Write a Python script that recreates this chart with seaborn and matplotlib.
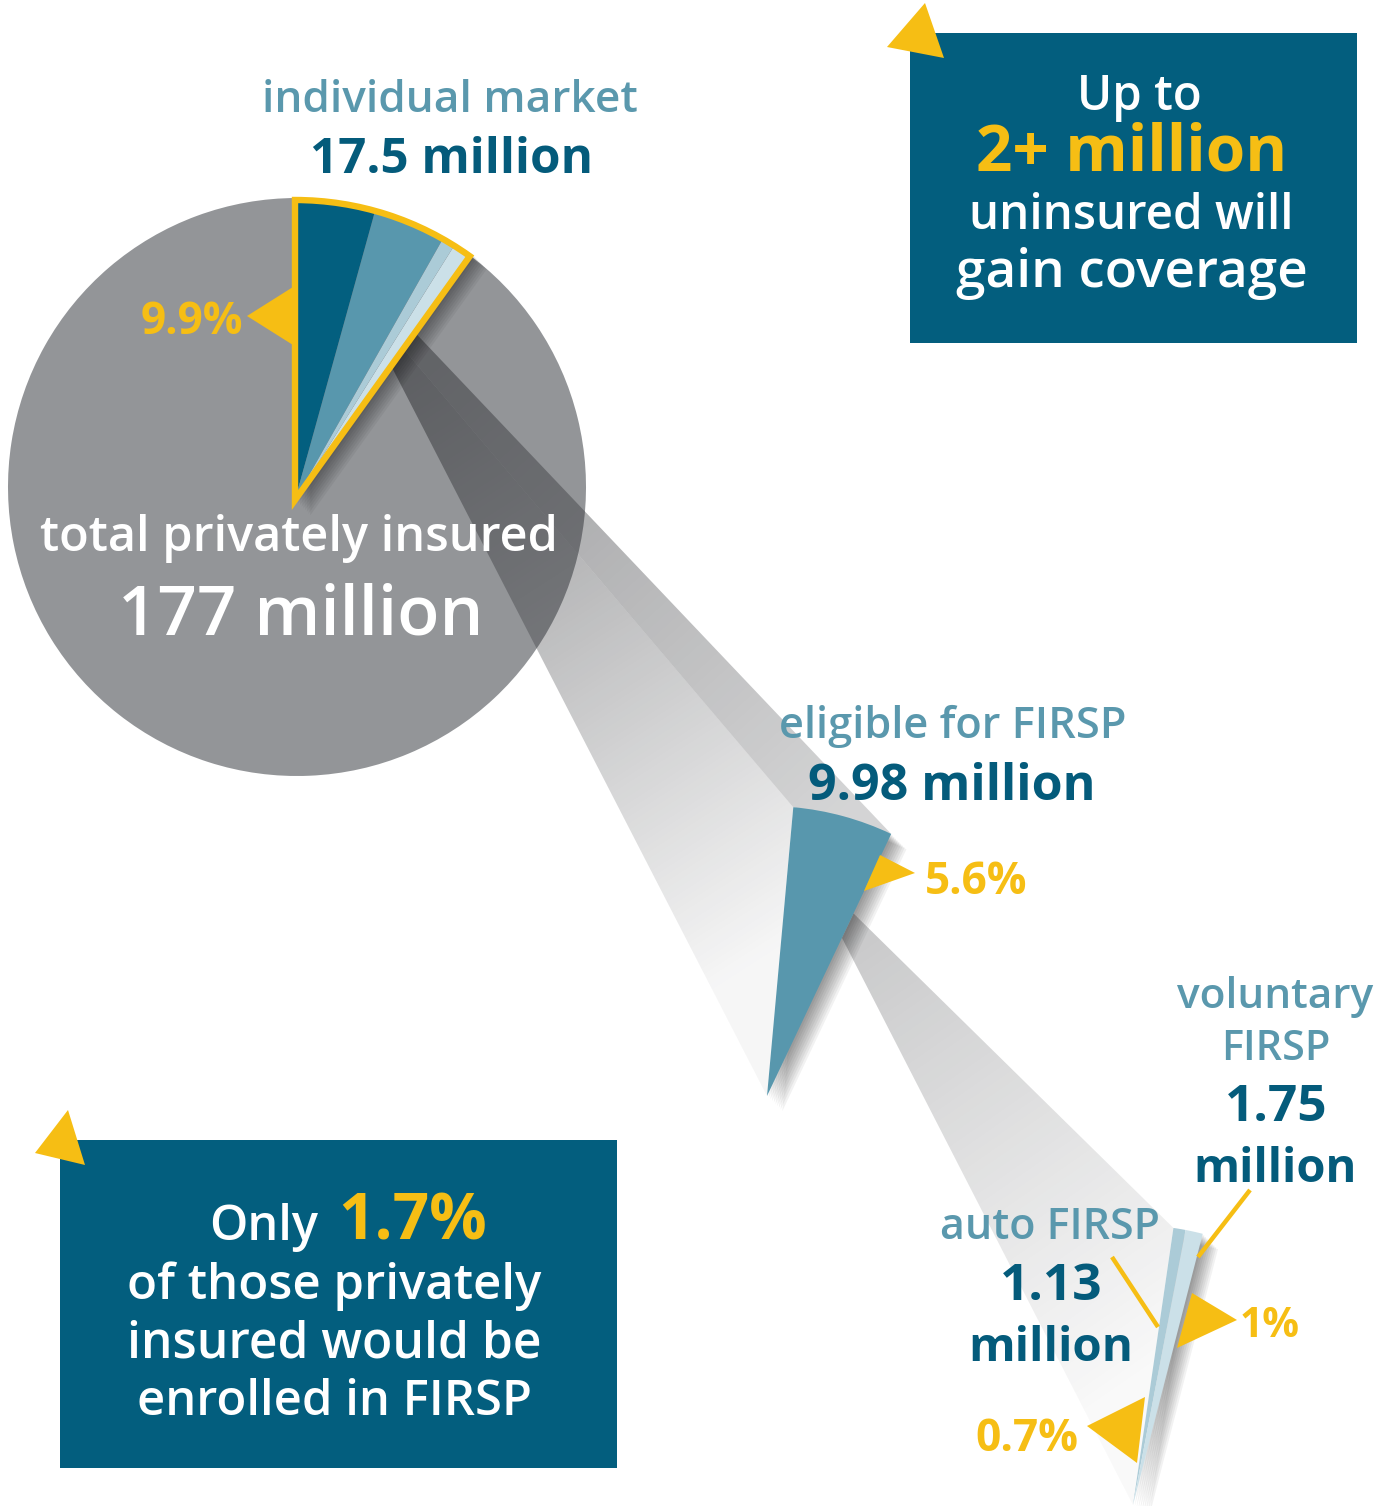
import numpy as np
import matplotlib
matplotlib.use("Agg")
import matplotlib.pyplot as plt
import seaborn as sns
from matplotlib.patches import Polygon, Rectangle
from matplotlib.colors import to_rgb

# ---------------- data ----------------
total_label = "177 million"
main_segments = ["individual, not eligible", "eligible, not enrolled", "auto FIRSP", "voluntary FIRSP"]
main_shares = [4.3, 3.9, 0.7, 1.0]      # % of all privately insured (sums to 9.9 %)
rest_share = [90.1]                      # rest of the privately insured
eligible_shares = [5.6]                  # eligible for FIRSP
enrolled_segments = ["auto FIRSP", "voluntary FIRSP"]
enrolled_shares = [0.7, 1.0]             # enrolled in FIRSP

pct_labels = ["9.9%", "5.6%", "0.7%", "1%"]
group_labels = ["individual market", "eligible for FIRSP", "auto FIRSP", "voluntary", "FIRSP"]
value_labels = ["17.5 million", "9.98 million", "1.13", "1.75", "million"]

# ---------------- style ----------------
NAVY = "#045b7b"
BOX = "#035e7e"
TEAL_TXT = "#5a98ad"
SEG_COLORS = ["#035f7f", "#5897ad", "#abcbd7", "#cbe0e8"]
MID = "#5897ad"
GRAY = "#939598"
YELLOW = "#f6be14"
WHITE = "white"

sns.set_theme(style="white")
plt.rcParams["font.family"] = ["Open Sans", "DejaVu Sans"]
BOLD_FAMILY = ["Open Sans", "DejaVu Sans"]
REG_FAMILY = ["Open Sans", "DejaVu Sans"]

W, H = 1388, 1506
fig = plt.figure(figsize=(W / 100, H / 100), dpi=100)
fig.patch.set_facecolor("white")
ax = fig.add_axes([0, 0, 1, 1])


def up(p):
    return (p[0], H - p[1])


def pt(c, r, theta):
    cx, cy = up(c)
    t = np.radians(theta)
    return (cx + r * np.sin(t), cy + r * np.cos(t))


def frac(v):
    return np.asarray(v, float) / 100.0


# layout (pixel coordinates from top-left)
PIE_C, PIE_R = (297, 487), 289
W1_C, W1_R, W1_T0 = (295, 500), 300, 0.0
W2_C, W2_R, W2_T0 = (767, 1096), 290, 5.2
W3_C, W3_R, W3_T0 = (1133, 1505), 280, 8.3


def draw_pie(vals, center, radius, t0, colors, z, **kw):
    wp = dict(linewidth=0, zorder=z)
    wp.update(kw)
    ax.pie(frac(vals), colors=colors, center=center, radius=radius,
           startangle=90 - t0, counterclock=False, normalize=False,
           wedgeprops=wp)


# grey total pie
draw_pie([sum(main_shares), rest_share[0]], up(PIE_C), PIE_R, 0, [GRAY, GRAY], 1)

# ---------------- gradient beams ----------------
xs = np.linspace(0, W, 694)
ys = np.linspace(0, H, 753)
GX, GY = np.meshgrid(xs, ys)


def beam(poly_pts, p0, p1, a0, a1, z=2, color="#2b2c30"):
    poly = Polygon(poly_pts, closed=True, facecolor="none", edgecolor="none")
    ax.add_patch(poly)
    d = np.array(p1) - np.array(p0)
    t = ((GX - p0[0]) * d[0] + (GY - p0[1]) * d[1]) / (d @ d)
    t = np.clip(t, 0, 1)
    rgba = np.zeros(GX.shape + (4,), dtype=np.float32)
    rgba[..., :3] = to_rgb(color)
    rgba[..., 3] = a0 + (a1 - a0) * t
    im = ax.imshow(rgba, extent=(0, W, 0, H), origin="lower", zorder=z,
                   interpolation="bilinear")
    im.set_clip_path(poly)


span1 = sum(main_shares) * 3.6
span2 = sum(eligible_shares) * 3.6
A1 = pt(W1_C, 165, span1)
B1 = pt(W1_C, 186, span1)
C1 = pt(W1_C, 206, span1)
W2V = up(W2_C)
W2TL = pt(W2_C, W2_R, W2_T0)
W2TR = pt(W2_C, W2_R, W2_T0 + span2)
mid = lambda a, b: ((a[0] + b[0]) / 2, (a[1] + b[1]) / 2)

beam([A1, B1, W2TL, W2V], mid(A1, B1), mid(W2TL, W2V), 0.52, 0.04)
beam([B1, C1, W2TR, W2TL], mid(B1, C1), mid(W2TL, W2TR), 0.48, 0.20)

P2 = pt(W2_C, 202, W2_T0 + span2)
Q2 = pt(W2_C, 175, W2_T0 + span2)
W3V = up(W3_C)
W3TL = pt(W3_C, W3_R, W3_T0)
beam([P2, W3TL, W3V, Q2], mid(P2, Q2), mid(W3TL, W3V), 0.26, 0.03)

# ---------------- drop shadows ----------------
for vals, c, r, t0 in [(main_shares, W1_C, W1_R + 3, W1_T0),
                        (eligible_shares, W2_C, W2_R, W2_T0),
                        (enrolled_shares, W3_C, W3_R, W3_T0)]:
    cx, cy = up(c)
    for k in range(1, 10):
        o = k * 1.7
        draw_pie([sum(vals)], (cx + o, cy - o), r, t0, ["black"], 3, alpha=0.05)

# ---------------- coloured wedges ----------------
draw_pie(main_shares, up(W1_C), W1_R, W1_T0, SEG_COLORS, 4)
draw_pie([sum(main_shares)], up(W1_C), W1_R, W1_T0, ["none"], 5,
         fill=False, edgecolor=YELLOW, linewidth=4.6, joinstyle="miter")
draw_pie(eligible_shares, up(W2_C), W2_R, W2_T0, [MID], 4)
draw_pie(enrolled_shares, up(W3_C), W3_R, W3_T0, SEG_COLORS[2:], 4)

# ---------------- boxes ----------------
ax.add_patch(Rectangle(up((910, 343)), 447, 310, facecolor=BOX, edgecolor="none", zorder=1))
ax.add_patch(Rectangle(up((60, 1468)), 557, 328, facecolor=BOX, edgecolor="none", zorder=1))

# ---------------- yellow callouts ----------------
tris = [
    [(247, 316), (293, 287), (293, 345)],
    [(915, 873), (880, 855), (864, 891)],
    [(1237, 1320), (1192, 1293), (1177, 1348)],
    [(1087, 1426), (1145, 1397), (1137, 1463)],
    [(887, 47), (925, 3), (944, 58)],
    [(35, 1153), (68, 1110), (85, 1165)],
]
for tri in tris:
    ax.add_patch(Polygon([up(p) for p in tri], closed=True, facecolor=YELLOW,
                         edgecolor="none", zorder=6))
for (p, q) in [((1112, 1257), (1158, 1327)), ((1250, 1190), (1198, 1257))]:
    a, b = up(p), up(q)
    ax.plot([a[0], b[0]], [a[1], b[1]], color=YELLOW, lw=3.2, zorder=6,
            solid_capstyle="butt")

# ---------------- text ----------------
renderer = fig.canvas.get_renderer()


def fit_text(s, x0, x1, baseline, color, bold=False):
    fam = BOLD_FAMILY if bold else REG_FAMILY
    t = ax.text((x0 + x1) / 2, H - baseline, s, ha="center", va="baseline",
                fontsize=30, color=color, family=fam,
                fontweight="bold" if bold else "semibold", zorder=8)
    w = t.get_window_extent(renderer=renderer).width
    t.set_fontsize(30 * (x1 - x0) / w)
    return t


texts = [
    (group_labels[0], 263, 637, 112, TEAL_TXT, False),
    (value_labels[0], 310, 593, 173, NAVY, True),
    (pct_labels[0], 140, 243, 334, YELLOW, True),
    ("total privately insured", 40, 557, 551, WHITE, False),
    (total_label, 118, 483, 634, WHITE, False),
    (group_labels[1], 779, 1126, 738, TEAL_TXT, False),
    (value_labels[1], 808, 1096, 800, NAVY, True),
    (pct_labels[1], 925, 1028, 894, YELLOW, True),
    (group_labels[3], 1177, 1373, 1008, TEAL_TXT, False),
    (group_labels[4], 1221, 1330, 1060, TEAL_TXT, False),
    (value_labels[3], 1225, 1328, 1121, NAVY, True),
    (value_labels[4], 1193, 1357, 1182, NAVY, True),
    (group_labels[2], 940, 1160, 1239, TEAL_TXT, False),
    (value_labels[2], 1000, 1103, 1300, NAVY, True),
    (value_labels[4], 968, 1133, 1361, NAVY, True),
    (pct_labels[3], 1240, 1300, 1337, YELLOW, True),
    (pct_labels[2], 975, 1078, 1451, YELLOW, True),
    ("Up to", 1077, 1202, 110, WHITE, False),
    ("2+ million", 976, 1287, 170, YELLOW, True),
    ("uninsured will", 969, 1293, 229, WHITE, False),
    ("gain coverage", 956, 1307, 287, WHITE, False),
    ("Only", 209, 318, 1240, WHITE, False),
    ("1.7%", 338, 487, 1240, YELLOW, True),
    ("of those privately", 127, 541, 1299, WHITE, False),
    ("insured would be", 127, 541, 1357, WHITE, False),
    ("enrolled in FIRSP", 137, 532, 1415, WHITE, False),
]
for args in texts:
    fit_text(*args)

ax.set_xlim(0, W)
ax.set_ylim(0, H)
ax.set_aspect("equal")
ax.axis("off")
fig.savefig("out.png", dpi=100, facecolor="white")
